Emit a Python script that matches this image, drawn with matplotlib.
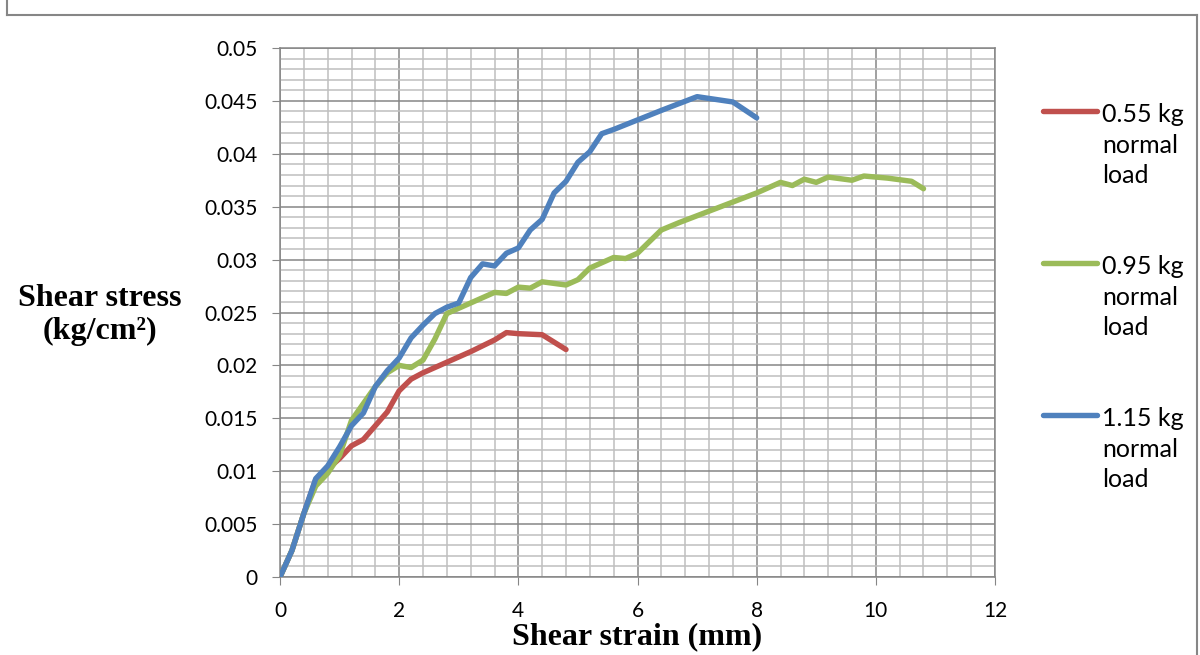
import matplotlib
matplotlib.use("Agg")
import matplotlib.pyplot as plt
from matplotlib.lines import Line2D
from matplotlib.ticker import MultipleLocator

# shear strain (mm) / shear stress (kg/cm2) for each normal load
strain_055 = [0, 0.2, 0.4, 0.6, 0.8, 1.0, 1.2, 1.4, 1.6, 1.8, 2.0, 2.2, 2.4,
              2.8, 3.2, 3.6, 3.8, 4.0, 4.4, 4.8]
stress_055 = [0, 0.0025, 0.006, 0.0092, 0.0102, 0.0112, 0.0124, 0.0130, 0.0143,
              0.0156, 0.0176, 0.0187, 0.0193, 0.0203, 0.0213, 0.0224, 0.0231,
              0.0230, 0.0229, 0.0215]

strain_095 = [0, 0.2, 0.4, 0.6, 0.8, 1.0, 1.2, 1.4, 1.6, 1.8, 2.0, 2.2, 2.4,
              2.6, 2.8, 3.0, 3.2, 3.4, 3.6, 3.8, 4.0, 4.2, 4.4, 4.8, 5.0, 5.2,
              5.6, 5.8, 6.0, 6.4, 6.7, 8.0, 8.4, 8.6, 8.8, 9.0, 9.2, 9.6, 9.8,
              10.2, 10.6, 10.8]
stress_095 = [0, 0.0025, 0.006, 0.0086, 0.0098, 0.0115, 0.0148, 0.0164, 0.0180,
              0.0193, 0.0200, 0.0198, 0.0205, 0.0225, 0.0249, 0.0254, 0.0259,
              0.0264, 0.0269, 0.0268, 0.0274, 0.0273, 0.0279, 0.0276, 0.0281,
              0.0292, 0.0302, 0.0301, 0.0306, 0.0328, 0.0335, 0.0363, 0.0373,
              0.0370, 0.0376, 0.0373, 0.0378, 0.0375, 0.0379, 0.0377, 0.0374,
              0.0367]

strain_115 = [0, 0.2, 0.4, 0.6, 0.8, 1.0, 1.2, 1.4, 1.6, 1.8, 2.0, 2.2, 2.4,
              2.6, 2.8, 3.0, 3.2, 3.4, 3.6, 3.8, 4.0, 4.2, 4.4, 4.6, 4.8, 5.0,
              5.2, 5.4, 5.6, 6.0, 6.4, 7.0, 7.6, 8.0]
stress_115 = [0, 0.0025, 0.006, 0.0093, 0.0105, 0.0123, 0.0143, 0.0155, 0.0180,
              0.0195, 0.0207, 0.0226, 0.0238, 0.0249, 0.0255, 0.0259, 0.0283,
              0.0296, 0.0294, 0.0306, 0.0311, 0.0328, 0.0338, 0.0363, 0.0374,
              0.0392, 0.0402, 0.0419, 0.0423, 0.0432, 0.0441, 0.0454, 0.0449,
              0.0434]

labels = ["0.55 kg\nnormal\nload", "0.95 kg\nnormal\nload", "1.15 kg\nnormal\nload"]
colors = ["#C0504D", "#9BBB59", "#4F81BD"]

W, H = 1200, 655
fig = plt.figure(figsize=(W / 100, H / 100), dpi=100)

# grey frame around the whole chart
for xs, ys in [([7, 7], [0, 15]), ([7, 1197], [15, 15]), ([1197, 1197], [15, 655])]:
    fig.add_artist(Line2D([x / W for x in xs], [1 - y / H for y in ys],
                          color="#868686", lw=1.5))

ax = fig.add_axes([280 / W, 1 - 577 / H, 715 / W, 529 / H])

series = [(strain_055, stress_055), (strain_095, stress_095), (strain_115, stress_115)]
for (xs, ys), c in zip(series, colors):
    ax.plot(xs, ys, color=c, lw=3.9, solid_joinstyle="round", solid_capstyle="round",
            zorder=3)

ax.set_xlim(0, 12)
ax.set_ylim(0, 0.05)
ax.xaxis.set_major_locator(MultipleLocator(2))
ax.xaxis.set_minor_locator(MultipleLocator(0.4))
ax.yaxis.set_minor_locator(MultipleLocator(0.001))
ax.set_yticks([i * 0.005 for i in range(11)])
ax.set_yticklabels(["0", "0.005", "0.01", "0.015", "0.02", "0.025", "0.03",
                    "0.035", "0.04", "0.045", "0.05"])

ax.grid(which="minor", color="#BFBFBF", lw=1.1)
ax.grid(which="major", color="#868686", lw=1.1)
ax.set_axisbelow(True)
for s in ax.spines.values():
    s.set_color("#868686")
    s.set_linewidth(1.1)

ax.tick_params(which="major", direction="out", length=6, color="#868686",
               labelsize=15, pad=10)
ax.tick_params(axis="x", which="major", pad=11)
ax.tick_params(which="minor", length=0)
for lab in ax.get_xticklabels() + ax.get_yticklabels():
    lab.set_fontfamily("Lato")

fig.text(637 / W, 1 - 637 / H, "Shear strain (mm)", ha="center", va="center",
         family="Liberation Serif", weight="bold", fontsize=23)
fig.text(100 / W, 1 - 315 / H, "Shear stress\n(kg/cm²)", ha="center", va="center",
         family="Liberation Serif", weight="bold", fontsize=23, linespacing=1.15)

# legend on the right, handle level with the first text line
for i, (lab, c) in enumerate(zip(labels, colors)):
    yl = 111 + i * 152
    fig.add_artist(Line2D([1043 / W, 1097 / W], [1 - yl / H, 1 - yl / H],
                          color=c, lw=3.9, solid_capstyle="round"))
    fig.text(1102 / W, 1 - (yl - 8) / H, lab, ha="left", va="top",
             family="Lato", fontsize=18, linespacing=1.4)

fig.savefig("out.png", dpi=100)
